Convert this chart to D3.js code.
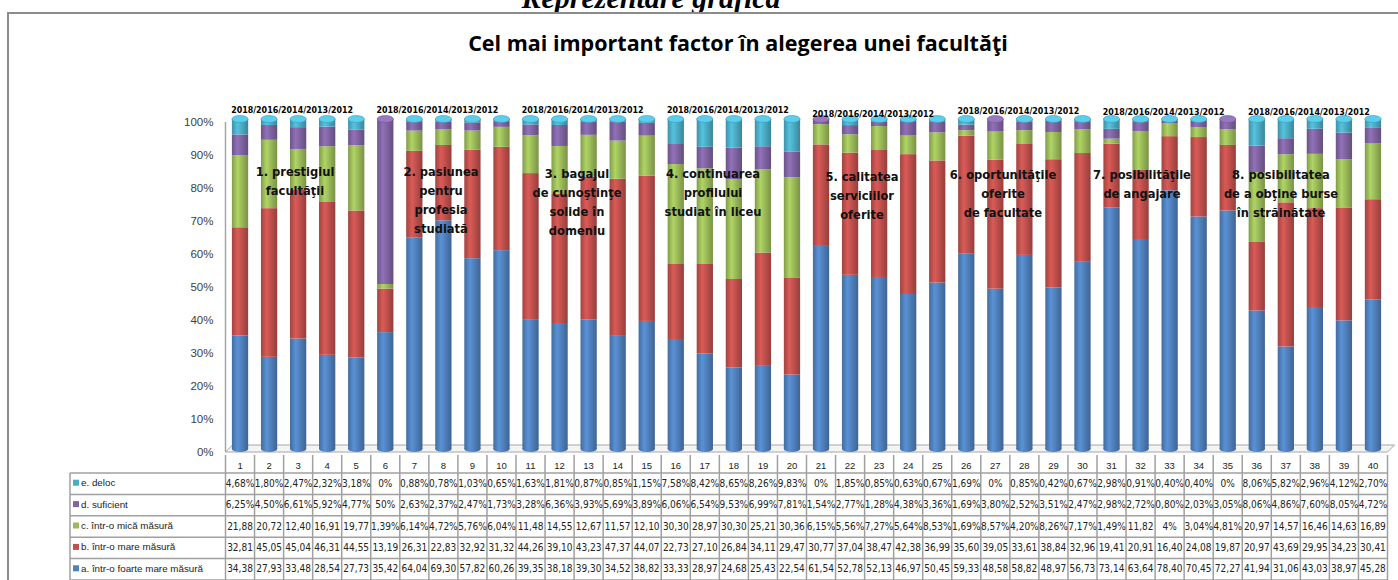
<!DOCTYPE html>
<html>
<head>
<meta charset="utf-8">
<script src="https://cdn.jsdelivr.net/npm/d3@7"></script>
<style>
  body { margin: 0; background: #fff; }
  svg { display: block; }
</style>
</head>
<body>
<div id="chart"></div>
<script>
// data
var columns = d3.range(1, 41);
var seriesNames = ["a. într-o foarte mare măsură", "b. într-o  mare măsură", "c. într-o mică  măsură", "d. suficient", "e. deloc"];
var seriesColors = ["#4f81bd", "#c0504d", "#9bbb59", "#8064a2", "#4bacc6"];
var aVals = [34.38, 27.93, 33.48, 28.54, 27.73, 35.42, 64.04, 69.30, 57.82, 60.26,
  39.35, 38.18, 39.30, 34.52, 38.82, 33.33, 28.97, 24.68, 25.43, 22.54,
  61.54, 52.78, 52.13, 46.97, 50.45, 59.33, 48.58, 58.82, 48.97, 56.73,
  73.14, 63.64, 78.40, 70.45, 72.27, 41.94, 31.06, 43.03, 38.97, 45.28];
var bVals = [32.81, 45.05, 45.04, 46.31, 44.55, 13.19, 26.31, 22.83, 32.92, 31.32,
  44.26, 39.10, 43.23, 47.37, 44.07, 22.73, 27.10, 26.84, 34.11, 29.47,
  30.77, 37.04, 38.47, 42.38, 36.99, 35.60, 39.05, 33.61, 38.84, 32.96,
  19.41, 20.91, 16.40, 24.08, 19.87, 20.97, 43.69, 29.95, 34.23, 30.41];
var cVals = [21.88, 20.72, 12.40, 16.91, 19.77, 1.39, 6.14, 4.72, 5.76, 6.04,
  11.48, 14.55, 12.67, 11.57, 12.10, 30.30, 28.97, 30.30, 25.21, 30.36,
  6.15, 5.56, 7.27, 5.64, 8.53, 1.69, 8.57, 4.20, 8.26, 7.17,
  1.49, 11.82, 4, 3.04, 4.81, 20.97, 14.57, 16.46, 14.63, 16.89];
var dVals = [6.25, 4.50, 6.61, 5.92, 4.77, 50, 2.63, 2.37, 2.47, 1.73,
  3.28, 6.36, 3.93, 5.69, 3.89, 6.06, 6.54, 9.53, 6.99, 7.81,
  1.54, 2.77, 1.28, 4.38, 3.36, 1.69, 3.80, 2.52, 3.51, 2.47,
  2.98, 2.72, 0.80, 2.03, 3.05, 8.06, 4.86, 7.60, 8.05, 4.72];
var eVals = [4.68, 1.80, 2.47, 2.32, 3.18, 0, 0.88, 0.78, 1.03, 0.65,
  1.63, 1.81, 0.87, 0.85, 1.15, 7.58, 8.42, 8.65, 8.26, 9.83,
  0, 1.85, 0.85, 0.63, 0.67, 1.69, 0, 0.85, 0.42, 0.67,
  2.98, 0.91, 0.40, 0.40, 0, 8.06, 5.82, 2.96, 4.12, 2.70];
var yearsLabel = "2018/2016/2014/2013/2012";
var factorLabels = [
  ["1. prestigiul", "facultăţii"],
  ["2. pasiunea", "pentru", "profesia", "studiată"],
  ["3.  bagajul", "de cunoştinţe", "solide în", "domeniu"],
  ["4. continuarea", "profilului", "studiat în liceu"],
  ["5. calitatea", "serviciilor", "oferite"],
  ["6. oportunităţile", "oferite", "de facultate"],
  ["7. posibilităţile", "de angajare"],
  ["8. posibilitatea", "de a obţine burse", "în străinătate"]
];
var yTicks = [0, 10, 20, 30, 40, 50, 60, 70, 80, 90, 100];

var w = 1398, h = 580;
var narrow = "'Liberation Sans Narrow', 'DejaVu Sans Condensed', sans-serif";

var keys = ["a", "b", "c", "d", "e"];
var valueArrays = [aVals, bVals, cVals, dVals, eVals];
var rows = columns.map(function(c, i) {
  var r = { col: c };
  keys.forEach(function(k, j) { r[k] = valueArrays[j][i]; });
  return r;
});

var svg = d3.select("#chart").append("svg")
  .attr("width", w)
  .attr("height", h);

var defs = svg.append("defs");
seriesColors.forEach(function(col, i) {
  var g = defs.append("linearGradient").attr("id", "cyl" + i)
    .attr("x1", "0%").attr("x2", "100%").attr("y1", "0%").attr("y2", "0%");
  var c = d3.color(col);
  g.append("stop").attr("offset", "0%").attr("stop-color", c.darker(0.5));
  g.append("stop").attr("offset", "35%").attr("stop-color", c.brighter(0.35));
  g.append("stop").attr("offset", "100%").attr("stop-color", c.darker(0.7));
});

// page heading, only its lower part shows above the frame
svg.append("text")
  .attr("x", 651).attr("y", 8)
  .attr("text-anchor", "middle")
  .attr("font-family", "'Liberation Serif', serif")
  .attr("font-style", "italic").attr("font-weight", "bold")
  .attr("font-size", 30)
  .text("Reprezentare grafică");

// chart frame
svg.append("rect")
  .attr("x", 8).attr("y", 13)
  .attr("width", w + 20).attr("height", h)
  .attr("fill", "none").attr("stroke", "#8c8c8c").attr("stroke-width", 2);

svg.append("text")
  .attr("x", 738).attr("y", 51)
  .attr("text-anchor", "middle")
  .attr("font-family", "'Open Sans', sans-serif")
  .attr("font-weight", "bold").attr("font-size", 21.5)
  .text("Cel mai important factor în alegerea unei facultăţi");

var x = d3.scaleBand().domain(columns).range([225.5, 1387.5]);
var xBar = d3.scaleBand().domain(columns).range([225.5, 1387.5]).paddingInner(0.44).paddingOuter(0.22);
var y = d3.scaleLinear().domain([0, 1]).range([452, 122]);
var yPct = d3.scaleLinear().domain([0, 100]).range([452, 122]);

// floor and wall edge
var fx0 = x.range()[0], fx1 = x.range()[1], depth = 7;
svg.append("path")
  .attr("d", "M" + fx0 + "," + yPct(0) + "L" + fx1 + "," + yPct(0) +
    "L" + (fx1 + depth) + "," + (yPct(0) - depth) + "L" + (fx0 + depth) + "," + (yPct(0) - depth) + "Z")
  .attr("fill", "#f4f4f4").attr("stroke", "#a6a6a6").attr("stroke-width", 1);
svg.append("line")
  .attr("x1", fx0).attr("x2", fx0)
  .attr("y1", yPct(100)).attr("y2", yPct(0))
  .attr("stroke", "#a6a6a6").attr("stroke-width", 1.5);

var yAxis = d3.axisLeft(yPct).tickValues(yTicks).tickSize(0).tickPadding(12)
  .tickFormat(function(d) { return d + "%"; });
var yg = svg.append("g").attr("transform", "translate(" + fx0 + ",0)").call(yAxis);
yg.select(".domain").remove();
yg.selectAll("text").attr("font-family", "'Liberation Sans', sans-serif")
  .attr("font-size", 11.5).attr("fill", "#404040");

// cylinders
var stack = d3.stack().keys(keys).offset(d3.stackOffsetExpand);
var series = stack(rows);
var lift = 3;
var layers = svg.append("g");
series.forEach(function(s, i) {
  layers.append("g").selectAll("rect")
    .data(s)
    .join("rect")
    .attr("x", function(d) { return xBar(d.data.col); })
    .attr("width", xBar.bandwidth())
    .attr("y", function(d) { return y(d[1]) - lift; })
    .attr("height", function(d) { return Math.max(0, y(d[0]) - y(d[1])); })
    .attr("fill", "url(#cyl" + i + ")");
});
// bottom rounding and top caps
svg.append("g").selectAll("ellipse")
  .data(rows)
  .join("ellipse")
  .attr("cx", function(d) { return xBar(d.col) + xBar.bandwidth() / 2; })
  .attr("cy", y(0) - lift)
  .attr("rx", xBar.bandwidth() / 2).attr("ry", 3)
  .attr("fill", "url(#cyl0)");
svg.append("g").selectAll("ellipse")
  .data(rows)
  .join("ellipse")
  .attr("cx", function(d) { return xBar(d.col) + xBar.bandwidth() / 2; })
  .attr("cy", y(1) - lift)
  .attr("rx", xBar.bandwidth() / 2).attr("ry", 3.5)
  .attr("fill", function(d) {
    var top = d.e > 0 ? 4 : 3;
    return d3.color(seriesColors[top]).brighter(0.5);
  })
  .attr("stroke", function(d) {
    var top = d.e > 0 ? 4 : 3;
    return d3.color(seriesColors[top]).darker(0.3);
  })
  .attr("stroke-width", 0.6);

// year labels above each group of five columns
var groupY = [110, 110, 110, 110, 114, 111, 112, 112];
svg.append("g").selectAll("text")
  .data(factorLabels)
  .join("text")
  .attr("x", function(d, i) { return x(columns[i * 5 + 2]) + x.bandwidth() / 2 - 6; })
  .attr("y", function(d, i) { return groupY[i] + 3; })
  .attr("text-anchor", "middle")
  .attr("font-family", narrow)
  .attr("font-weight", "bold").attr("font-size", 9.5)
  .attr("textLength", 122).attr("lengthAdjust", "spacingAndGlyphs")
  .text(yearsLabel);

// factor names drawn over the bars
var labelX = [295, 441, 577, 713, 862, 1003, 1142, 1281];
var labelY = [171, 171, 173, 173, 176, 174, 174, 174];
factorLabels.forEach(function(lines, i) {
  var t = svg.append("text")
    .attr("text-anchor", "middle")
    .attr("font-family", narrow)
    .attr("font-weight", "bold").attr("font-size", 12.8)
    .attr("fill", "#111");
  lines.forEach(function(line, j) {
    t.append("tspan")
      .attr("x", labelX[i])
      .attr("y", labelY[i] + 5 + j * 19)
      .text(line);
  });
});

// data table
function fmt(v) {
  if (Number.isInteger(v)) return v + "%";
  var s = v.toFixed(2).replace(".", ",");
  return v < 10 ? s + "%" : s;
}
var tableLeft = 70;
var headerTop = 455, rowH = 21.4, headerBottom = 473;
var tableRows = [4, 3, 2, 1, 0];
var rowTop = function(r) { return headerBottom + r * rowH; };
var tg = svg.append("g");
var lineColor = "#a0a0a0";

// vertical lines
columns.forEach(function(c) {
  tg.append("line")
    .attr("x1", x(c)).attr("x2", x(c))
    .attr("y1", headerTop).attr("y2", h)
    .attr("stroke", lineColor).attr("stroke-width", 1.5);
});
tg.append("line")
  .attr("x1", fx1).attr("x2", fx1)
  .attr("y1", headerTop).attr("y2", h)
  .attr("stroke", lineColor).attr("stroke-width", 1.5);
tg.append("line")
  .attr("x1", tableLeft).attr("x2", tableLeft)
  .attr("y1", headerBottom).attr("y2", h)
  .attr("stroke", lineColor).attr("stroke-width", 1.5);
// horizontal lines
d3.range(0, 6).forEach(function(r) {
  tg.append("line")
    .attr("x1", tableLeft).attr("x2", fx1)
    .attr("y1", rowTop(r)).attr("y2", rowTop(r))
    .attr("stroke", lineColor).attr("stroke-width", 1.5);
});

tg.selectAll(".colnum")
  .data(columns)
  .join("text")
  .attr("class", "colnum")
  .attr("x", function(c) { return x(c) + x.bandwidth() / 2; })
  .attr("y", 469)
  .attr("text-anchor", "middle")
  .attr("font-family", "'Liberation Sans', sans-serif")
  .attr("font-size", 9.5).attr("fill", "#222")
  .text(function(c) { return c; });

tableRows.forEach(function(si, r) {
  var cy = rowTop(r) + rowH / 2;
  tg.append("rect")
    .attr("x", tableLeft + 3).attr("y", cy - 4)
    .attr("width", 6).attr("height", 6)
    .attr("fill", seriesColors[si]);
  tg.append("text")
    .attr("x", tableLeft + 11).attr("y", cy + 2.5)
    .attr("font-family", "'Liberation Sans', sans-serif")
    .attr("font-size", 9.8).attr("fill", "#222")
    .text(seriesNames[si]);
  tg.append("g").selectAll("text")
    .data(valueArrays[si])
    .join("text")
    .attr("x", function(d, i) { return x(columns[i]) + x.bandwidth() / 2; })
    .attr("y", cy + 3)
    .attr("text-anchor", "middle")
    .attr("font-family", narrow)
    .attr("font-size", 10).attr("fill", "#222")
    .text(function(d) { return fmt(d); });
});
</script>
</body>
</html>
